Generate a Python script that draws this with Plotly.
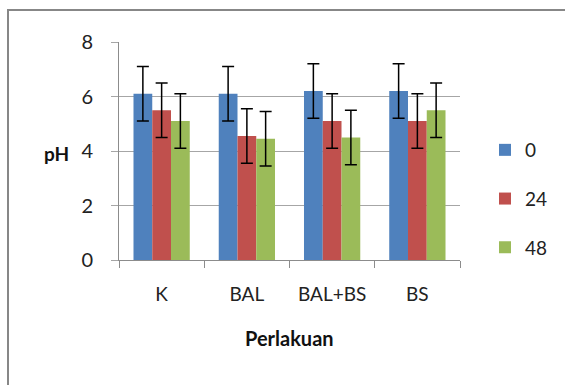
import plotly.graph_objects as go

categories = ["K", "BAL", "BAL+BS", "BS"]
series_names = ["0", "24", "48"]
ph_0 = [6.1, 6.1, 6.2, 6.2]
ph_24 = [5.5, 4.55, 5.1, 5.1]
ph_48 = [5.1, 4.45, 4.5, 5.5]
err_0 = [1.0, 1.0, 1.0, 1.0]
err_24 = [1.0, 1.0, 1.0, 1.0]
err_48 = [1.0, 1.0, 1.0, 1.0]
y_ticks = [0, 2, 4, 6, 8]

colors = ["#4F81BD", "#C0504D", "#9BBB59"]
FONT = "Lato"

fig = go.Figure()
for i, (name, vals, errs) in enumerate(zip(series_names, [ph_0, ph_24, ph_48], [err_0, err_24, err_48])):
    fig.add_trace(go.Bar(
        x=categories, y=vals, name=name,
        marker=dict(color=colors[i], line=dict(width=0)),
        error_y=dict(type="data", array=errs, visible=True, color="black", thickness=1.5, width=6),
        legendgroup=name,
    ))

L, R, T, B = 119, 105, 42, 125
W, H = 565, 385
pw, ph = W - L - R, H - T - B

def px_x(x):
    return (x - L) / pw

def px_y(y):
    return 1 - (y - T) / ph

fig.update_layout(
    width=W, height=H,
    margin=dict(l=L, r=R, t=T, b=B, pad=0),
    paper_bgcolor="white", plot_bgcolor="white",
    barmode="group", bargap=0.34, bargroupgap=0,
    font=dict(family=FONT, size=19, color="#222222"),
    showlegend=True,
    legend=dict(
        x=px_x(485), y=px_y(131), xanchor="left", yanchor="top",
        font=dict(family=FONT, size=19, color="#222222"),
        traceorder="grouped", tracegroupgap=21,
        itemwidth=30, bgcolor="rgba(0,0,0,0)",
    ),
    xaxis=dict(
        showline=True, linecolor="#8C8C8C", linewidth=1,
        ticks="outside", ticklen=7, tickcolor="#8C8C8C", tickson="boundaries",
        showgrid=False, ticklabelstandoff=17,
        tickfont=dict(family=FONT, size=19, color="#222222"),
    ),
    yaxis=dict(
        range=[0, 8], tickvals=y_ticks, showline=True, linecolor="#8C8C8C", linewidth=1,
        ticks="outside", ticklen=7, tickcolor="#A6A6A6",
        showgrid=True, gridcolor="#A6A6A6", gridwidth=1.2, zeroline=False,
        ticklabelstandoff=14,
        tickfont=dict(family=FONT, size=20, color="#222222"),
    ),
    annotations=[
        dict(text="<b>pH</b>", x=px_x(56), y=px_y(153), xref="paper", yref="paper",
             xanchor="center", yanchor="middle",
             showarrow=False, font=dict(family=FONT, size=19, color="#111111")),
        dict(text="<b>Perlakuan</b>", x=px_x(289), y=px_y(338), xref="paper", yref="paper",
             xanchor="center", yanchor="middle",
             showarrow=False, font=dict(family=FONT, size=20, color="#111111")),
    ],
    shapes=[
        dict(type="rect", xref="paper", yref="paper",
             x0=px_x(8), y0=px_y(400), x1=px_x(580), y1=px_y(10),
             line=dict(color="#878787", width=2), fillcolor="rgba(0,0,0,0)", layer="below"),
    ],
)

fig.write_html("out.html", config={"displayModeBar": False},
               post_script="document.body.style.margin='0';document.body.style.overflow='hidden';")
